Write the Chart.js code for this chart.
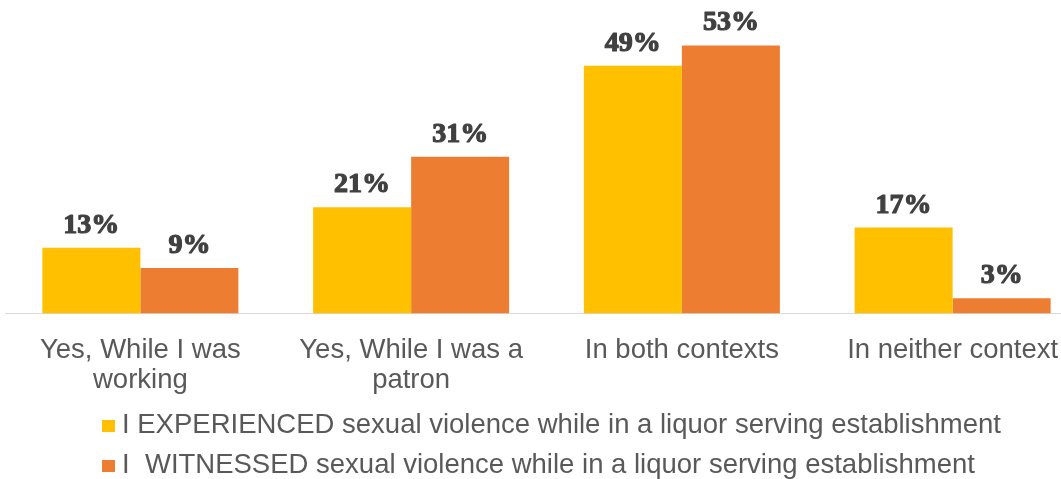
<!DOCTYPE html>
<html>
<head>
<meta charset="utf-8">
<script src="https://cdn.jsdelivr.net/npm/chart.js@4.4.1/dist/chart.umd.min.js"></script>
<style>
  html, body { margin: 0; padding: 0; background: #ffffff; overflow: hidden; }
  #wrap { position: relative; width: 1061px; height: 479px; overflow: hidden; }
  #cbox { position: absolute; left: 0; top: 0; width: 1090px; height: 410px; }
  .leg { position: absolute; left: 102px; font-family: "Liberation Sans", Arial, sans-serif; font-size: 27.5px; line-height: 30px; color: #595959; white-space: pre; }
  .leg .sw { position: absolute; left: 0; width: 13px; height: 12px; }
  .leg .tx { position: absolute; left: 20px; top: 0; }
</style>
</head>
<body>
<div id="wrap">
  <div id="cbox"><canvas id="c" width="1090" height="410"></canvas></div>
  <div id="legend"></div>
</div>
<script>
const categories = [["Yes, While I was", "working"], ["Yes, While I was a", "patron"], "In both contexts", "In neither context"];
const seriesNames = ["I EXPERIENCED sexual violence while in a liquor serving establishment",
                     "I  WITNESSED sexual violence while in a liquor serving establishment"];
const experienced = [13, 21, 49, 17];
const witnessed = [9, 31, 53, 3];
const seriesColors = ["#FFC000", "#ED7D31"];

const labelPlugin = {
  id: 'valueLabels',
  afterDatasetsDraw(chart) {
    const ctx = chart.ctx;
    ctx.save();
    ctx.font = 'bold 28px "Liberation Serif", "Times New Roman", serif';
    ctx.fillStyle = '#404040';
    ctx.strokeStyle = '#404040';
    ctx.lineWidth = 1.2;
    ctx.lineJoin = 'round';
    ctx.textAlign = 'center';
    ctx.textBaseline = 'alphabetic';
    chart.data.datasets.forEach((ds, di) => {
      const meta = chart.getDatasetMeta(di);
      meta.data.forEach((bar, i) => {
        const t = ds.data[i] + '%';
        ctx.strokeText(t, bar.x, bar.y - 15);
        ctx.fillText(t, bar.x, bar.y - 15);
      });
    });
    ctx.restore();
  }
};

const chart = new Chart(document.getElementById('c'), {
  type: 'bar',
  data: {
    labels: categories,
    datasets: [
      { label: seriesNames[0], data: experienced, backgroundColor: seriesColors[0], borderWidth: 0 },
      { label: seriesNames[1], data: witnessed, backgroundColor: seriesColors[1], borderWidth: 0 }
    ]
  },
  options: {
    responsive: false,
    animation: false,
    devicePixelRatio: 1,
    layout: { padding: { left: 5, right: 2, top: 10, bottom: 0 } },
    plugins: { legend: { display: false }, tooltip: { enabled: false } },
    datasets: { bar: { categoryPercentage: 0.724, barPercentage: 1.0 } },
    scales: {
      x: {
        grid: { display: false },
        border: { display: true, color: '#d9d9d9', width: 1 },
        ticks: {
          color: '#595959',
          font: { family: '"Liberation Sans", Arial, sans-serif', size: 27.5, lineHeight: 1.1 },
          padding: 14,
          maxRotation: 0,
          autoSkip: false
        }
      },
      y: { display: false, min: 0, max: 60 }
    }
  },
  plugins: [labelPlugin]
});

// Legend built from the dataset definitions
const legendEl = document.getElementById('legend');
const legTops = [409, 449];
chart.data.datasets.forEach((ds, i) => {
  const row = document.createElement('div');
  row.className = 'leg';
  row.style.top = legTops[i] + 'px';
  const sw = document.createElement('div');
  sw.className = 'sw';
  sw.style.background = ds.backgroundColor;
  sw.style.top = '11px';
  const tx = document.createElement('div');
  tx.className = 'tx';
  tx.textContent = ds.label;
  row.appendChild(sw);
  row.appendChild(tx);
  legendEl.appendChild(row);
});
</script>
</body>
</html>
